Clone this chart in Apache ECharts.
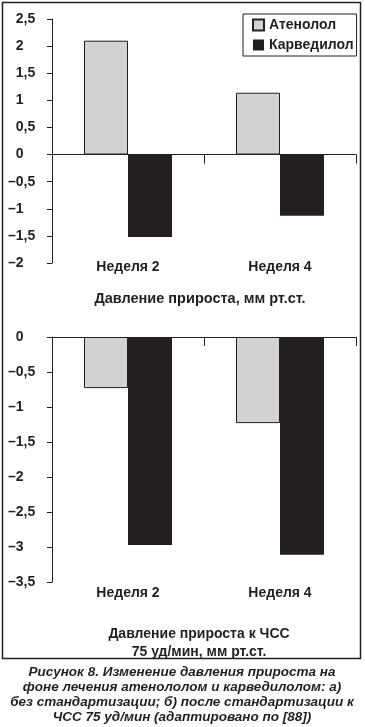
<!DOCTYPE html>
<html><head><meta charset="utf-8">
<script src="https://cdn.jsdelivr.net/npm/echarts@6/dist/echarts.min.js"></script>
<style>html,body{margin:0;padding:0;background:#fff}#c{width:365px;height:727px}</style>
</head><body><div id="c"></div>
<script>
const categories = ['Неделя 2', 'Неделя 4'];
const seriesNames = ['Атенолол', 'Карведилол'];
const atenololA = [2.1, 1.14];
const carvedilolA = [-1.52, -1.13];
const atenololB = [-0.73, -1.23];
const carvedilolB = [-2.97, -3.11];
const titleALines = ['Давление прироста, мм рт.ст.'];
const titleBLines = ['Давление прироста к ЧСС', '75 уд/мин, мм рт.ст.'];
const captionLines = [
  'Рисунок 8. Изменение давления прироста на',
  'фоне лечения атенололом и карведилолом: а)',
  'без стандартизации; б) после стандартизации к',
  'ЧСС 75 уд/мин (адаптировано по [88])'
];

const INK = '#231f20';
const GRAY = '#d1d2d4';
const FONT = '"Liberation Sans", Arial, sans-serif';
const fmt = v => v < 0 ? '–' + String(-v).replace('.', ',') : '{h|–}' + String(v).replace('.', ',');

function yAx(gi, min, max) {
  return {
    gridIndex: gi, type: 'value', min: min, max: max, interval: 0.5,
    splitLine: {show: false},
    axisLine: {show: true, onZero: false, lineStyle: {color: INK, width: 1}},
    axisTick: {show: true, length: 5, lineStyle: {color: INK}},
    axisLabel: {formatter: fmt, color: INK, fontSize: 14, fontWeight: 'bold', fontFamily: FONT,
      margin: 44, align: 'left',
      rich: {h: {color: 'rgba(0,0,0,0)', fontSize: 14, fontWeight: 'bold', fontFamily: FONT}}}
  };
}
function xLine(gi) {
  return {
    gridIndex: gi, type: 'category', data: categories, position: 'bottom',
    axisLine: {show: true, onZero: true, lineStyle: {color: INK, width: 1}},
    axisTick: {show: true, length: 9, inside: false, lineStyle: {color: INK}},
    axisLabel: {show: false}
  };
}
function xLab(gi, margin) {
  return {
    gridIndex: gi, type: 'category', data: categories, position: 'bottom',
    axisLine: {show: false, onZero: false}, axisTick: {show: false},
    axisLabel: {show: true, color: INK, fontSize: 14, fontWeight: 'bold', fontFamily: FONT, margin: margin, verticalAlign: 'middle'}
  };
}
function bar(name, data, xi, yi, gray) {
  return {
    name: name, type: 'bar', data: data, xAxisIndex: xi, yAxisIndex: yi,
    barWidth: 44, barGap: '0%',
    itemStyle: gray ? {color: GRAY, borderColor: INK, borderWidth: 1} : {color: INK},
    emphasis: {disabled: true}
  };
}
function textLines(lines, cx, y0, lh, font) {
  return lines.map((t, i) => ({
    type: 'text', x: cx, y: y0 + i * lh, silent: true,
    style: {text: t, fill: INK, font: font, textAlign: 'center', textVerticalAlign: 'middle'}
  }));
}

const chart = echarts.init(document.getElementById('c'), null, {renderer: 'canvas'});
chart.setOption({
  animation: false,
  textStyle: {fontFamily: FONT},
  grid: [
    {left: 52, top: 19, width: 304, height: 244, outerBoundsMode: 'none'},
    {left: 52, top: 337, width: 304, height: 245, outerBoundsMode: 'none'}
  ],
  xAxis: [xLine(0), xLab(0, 4), xLine(1), xLab(1, 11)],
  yAxis: [yAx(0, -2, 2.5), yAx(1, -3.5, 0)],
  legend: {
    data: seriesNames, orient: 'vertical', left: 243, top: 14,
    icon: 'rect', itemWidth: 11, itemHeight: 11, itemGap: 6,
    padding: [4, 3, 4, 9], borderColor: INK, borderWidth: 1,
    selectedMode: false,
    textStyle: {color: INK, fontSize: 14, fontWeight: 'bold', fontFamily: FONT}
  },
  graphic: [
    {type: 'rect', shape: {x: 2.5, y: 2.5, width: 358, height: 656}, style: {fill: null, stroke: INK, lineWidth: 1.5}, silent: true, z: 100}
  ].concat(
    textLines(titleALines, 200, 299, 19, 'bold 14.5px ' + FONT),
    textLines(titleBLines, 199, 634, 18.5, 'bold 14px ' + FONT),
    textLines(captionLines, 182, 672, 15.2, 'italic bold 13.5px ' + FONT)
  ),
  series: [
    bar(seriesNames[0], atenololA, 0, 0, true),
    bar(seriesNames[1], carvedilolA, 0, 0, false),
    bar(seriesNames[0], atenololB, 2, 1, true),
    bar(seriesNames[1], carvedilolB, 2, 1, false)
  ]
});
</script></body></html>
